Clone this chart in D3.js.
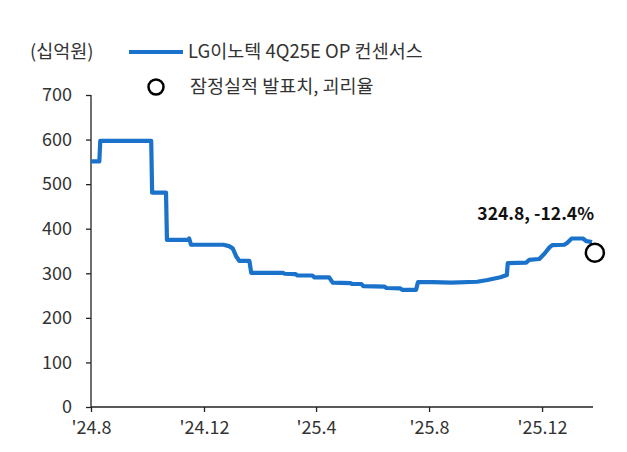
<!DOCTYPE html>
<html><head><meta charset="utf-8">
<script src="https://cdn.jsdelivr.net/npm/d3@7"></script>
<style>
html,body{margin:0;padding:0;background:#fff;}
text{font-family:"Noto Sans CJK KR","Noto Sans",sans-serif;}
</style></head>
<body><svg id="c" width="627" height="452"></svg>
<script>
// Consensus series (date, value in 십억원)
const dates = ["2024-08-01","2024-08-10","2024-08-11","2024-10-05","2024-10-06","2024-10-21","2024-10-22","2024-11-14","2024-11-15","2024-11-17",
"2024-12-22","2024-12-28","2025-01-01","2025-01-05","2025-01-08","2025-01-19","2025-01-21","2025-02-24","2025-02-26","2025-03-10",
"2025-03-12","2025-03-28","2025-03-30","2025-04-15","2025-04-19","2025-05-08","2025-05-10","2025-05-20","2025-05-22","2025-06-14",
"2025-06-16","2025-07-01","2025-07-03","2025-07-18","2025-07-20","2025-08-05","2025-08-25","2025-09-22","2025-10-03","2025-10-17",
"2025-10-24","2025-10-25","2025-11-14","2025-11-17","2025-11-28","2025-12-04","2025-12-09","2025-12-12","2025-12-25","2025-12-28",
"2026-01-02","2026-01-14","2026-01-18","2026-01-24"];
const values = [551,551,597,597,481,481,375,375,378,364,
364,361,356,337,328,328,301,301,299,298,
295,295,291,291,279,278,276,276,271,270,
267,266,263,263,280,280,279,281,285,291,
296,323,324,330,332,345,358,363,364,368,
378,378,372,370];
const actualDate = "2026-01-27";
const actualValue = 346;
const annotation = "324.8, -12.4%";
const yTicks = [0,100,200,300,400,500,600,700];
const xTickDates = ["2024-08-01","2024-12-01","2025-04-01","2025-08-01","2025-12-01"];
const xTickLabels = ["'24.8","'24.12","'25.4","'25.8","'25.12"];
const unitLabel = "(십억원)";
const legendLine = "LG이노텍 4Q25E OP 컨센서스";
const legendCircle = "잠정실적 발표치, 괴리율";

const parse = d3.utcParse("%Y-%m-%d");
const data = dates.map((d,i)=>({date:parse(d), value:values[i]}));
const svg = d3.select("#c");
const blue = "#1a72ca";
const x = d3.scaleUtc().domain([parse("2024-08-01"), parse("2026-01-25")]).range([91, 593]);
const y = d3.scaleLinear().domain([0,700]).range([407, 95]);

// Y axis
const yAxis = svg.append("g").attr("transform","translate(91,0)")
  .call(d3.axisLeft(y).tickValues(yTicks).tickSize(5).tickPadding(14).tickSizeOuter(0));
// X axis
const xAxis = svg.append("g").attr("transform","translate(0,407)")
  .call(d3.axisBottom(x).tickValues(xTickDates.map(parse)).tickFormat((d,i)=>xTickLabels[i]).tickSize(5).tickPadding(9).tickSizeOuter(0));
[yAxis,xAxis].forEach(g=>{
  g.selectAll("path").attr("stroke","#222").attr("stroke-width",1.3);
  g.selectAll("line").attr("stroke","#222").attr("stroke-width",1.3);
  g.selectAll("text").attr("fill","#333").style("font-size","18px");
});
xAxis.select("path").attr("d","M91,0H593");
yAxis.select("path").attr("d","M0,95V407");

// Line
svg.append("path").datum(data)
  .attr("fill","none").attr("stroke",blue).attr("stroke-width",4.2)
  .attr("stroke-linejoin","round")
  .attr("d", d3.line().x(d=>x(d.date)).y(d=>y(d.value)));

// Actual circle
svg.append("circle").attr("cx", x(parse(actualDate))).attr("cy", y(actualValue)).attr("r",9)
  .attr("fill","#fff").attr("stroke","#000").attr("stroke-width",2.5);
svg.append("text").attr("x", 594).attr("y", 220).attr("text-anchor","end")
  .attr("font-weight","bold").style("font-size","17.5px").attr("fill","#111").text(annotation);

// Legend
svg.append("text").attr("x",30).attr("y",58).style("font-size","18.5px").attr("fill","#333").text(unitLabel);
svg.append("line").attr("x1",129).attr("x2",183).attr("y1",52).attr("y2",52).attr("stroke",blue).attr("stroke-width",4.2);
svg.append("text").attr("x",188).attr("y",58).style("font-size","18.5px").attr("fill","#333").text(legendLine);
svg.append("circle").attr("cx",156).attr("cy",87).attr("r",7.5).attr("fill","#fff").attr("stroke","#000").attr("stroke-width",2.5);
svg.append("text").attr("x",190).attr("y",93).style("font-size","18.5px").attr("fill","#333").text(legendCircle);
</script></body></html>
